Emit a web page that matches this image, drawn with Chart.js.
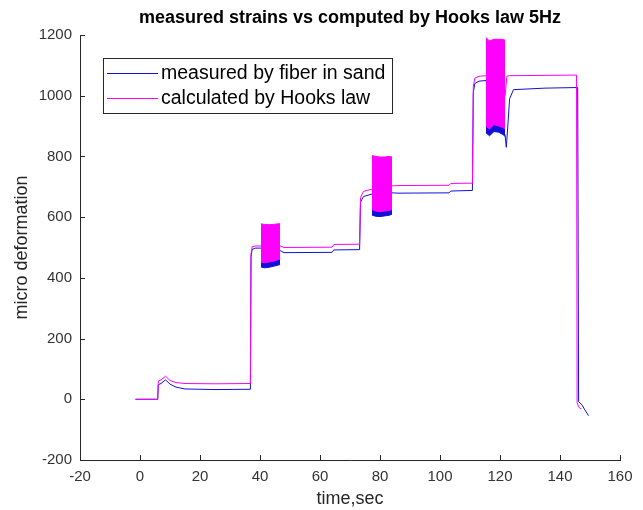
<!DOCTYPE html>
<html>
<head>
<meta charset="utf-8">
<script src="https://cdn.jsdelivr.net/npm/chart.js@4.4.0/dist/chart.umd.min.js"></script>
<style>
  html, body { margin: 0; padding: 0; background: #fff; }
  #wrap { width: 643px; height: 510px; position: relative; }
</style>
</head>
<body>
<div id="wrap"><canvas id="strainChart"></canvas></div>
<script>
// measured by fiber (blue trace)
const measuredTime = [-1.5, 5.9, 6.1, 7.0, 8.5, 10, 12, 15, 25, 36.8, 37.0, 37.4, 38.5, 40.3, 46.7, 48, 64.0, 64.6, 73.2, 73.5, 74.5, 77.3, 84.0, 86, 103.0, 103.6, 110.8, 111.1, 111.6, 113, 115.3, 121.7, 122.1, 122.6, 123.2, 124.5, 135, 145.9, 146.2, 147.3, 148.3, 149.5];
const measuredStrain = [0, 0, 48, 52, 64, 50, 40, 34, 32, 33, 470, 494, 498, 498, 490, 483, 484, 492, 493, 650, 668, 676, 680, 679, 680, 686, 688, 1010, 1040, 1048, 1050, 870, 830, 900, 990, 1020, 1025, 1027, -8, -18, -35, -54];

// Hooke's law estimate (magenta trace)
const calculatedTime = [-1.5, 5.9, 6.1, 7.0, 8.5, 10, 12, 15, 25, 36.8, 37.0, 37.4, 38.5, 40.3, 46.7, 48, 64.0, 64.6, 73.2, 73.5, 74.5, 77.3, 84.0, 86, 103.0, 103.6, 110.8, 111.1, 111.6, 113, 115.3, 121.7, 122.3, 123, 135, 145.5, 145.7, 146.2, 147];
const calculatedStrain = [0, 0, 60, 64, 76, 62, 55, 52, 51, 52, 480, 503, 505, 505, 505, 500, 501, 510, 511, 665, 685, 692, 703, 704, 705, 711, 712, 1030, 1058, 1064, 1066, 1000, 1064, 1066, 1067, 1068, -10, -25, -32];

// 5Hz loading bursts: envelope of the oscillation
const burstTime = [
  [40.3, 41.5, 43, 44.5, 46, 46.7],
  [77.3, 78.5, 80, 81.5, 83, 84.0],
  [115.3, 116.5, 118, 119.5, 121, 121.7]
];
const calculatedBurstHigh = [
  [578, 576, 575, 576, 578, 578],
  [803, 800, 798, 798, 800, 798],
  [1192, 1180, 1186, 1186, 1185, 1183]
];
const calculatedBurstLow = [
  [452, 450, 452, 455, 460, 462],
  [625, 620, 618, 620, 622, 625],
  [900, 890, 905, 900, 895, 890]
];
const measuredBurstHigh = [
  [560, 558, 557, 558, 560, 560],
  [785, 782, 780, 780, 782, 780],
  [1170, 1160, 1165, 1165, 1165, 1160]
];
const measuredBurstLow = [
  [436, 433, 435, 438, 442, 444],
  [607, 603, 602, 604, 606, 610],
  [878, 868, 882, 880, 872, 866]
];

const xTickValues = [-20, 0, 20, 40, 60, 80, 100, 120, 140, 160];
const yTickValues = [-200, 0, 200, 400, 600, 800, 1000, 1200];

const BLUE = '#1010d8';
const MAGENTA = '#ff00ff';
const AXIS = '#262626';

Chart.defaults.font.family = "'Liberation Sans', Arial, Helvetica, sans-serif";

const toPoints = (xs, ys) => xs.map((x, i) => ({ x: x, y: ys[i] }));

const datasets = [
    { label: 'measured by fiber in sand', data: toPoints(measuredTime, measuredStrain), borderColor: BLUE, order: 2 },
    { label: 'calculated by Hooks law', data: toPoints(calculatedTime, calculatedStrain), borderColor: MAGENTA, order: 0 }
];
burstTime.forEach((ts, b) => {
    datasets.push({ label: '', data: toPoints(ts, measuredBurstHigh[b]), borderColor: BLUE, backgroundColor: BLUE, fill: '+1', order: 3 });
    datasets.push({ label: '', data: toPoints(ts, measuredBurstLow[b]), borderColor: BLUE, fill: false, order: 3 });
    datasets.push({ label: '', data: toPoints(ts, calculatedBurstHigh[b]), borderColor: MAGENTA, backgroundColor: MAGENTA, fill: '+1', order: 1 });
    datasets.push({ label: '', data: toPoints(ts, calculatedBurstLow[b]), borderColor: MAGENTA, fill: false, order: 1 });
});

// matlab style ticks pointing into the plot
const innerTicks = {
    id: 'innerTicks',
    afterDatasetsDraw(chart) {
        const { ctx, chartArea, scales: { x, y } } = chart;
        ctx.save();
        ctx.strokeStyle = AXIS;
        ctx.lineWidth = 1;
        ctx.beginPath();
        x.ticks.forEach(t => {
            const px = Math.round(x.getPixelForValue(t.value)) + 0.5;
            ctx.moveTo(px, chartArea.bottom);
            ctx.lineTo(px, chartArea.bottom - 5);
        });
        y.ticks.forEach(t => {
            const py = Math.round(y.getPixelForValue(t.value)) + 0.5;
            ctx.moveTo(chartArea.left, py);
            ctx.lineTo(chartArea.left + 5, py);
        });
        ctx.stroke();
        ctx.restore();
    }
};

// legend box in the upper left of the axes
const legendBox = {
    id: 'legendBox',
    afterDraw(chart) {
        const ctx = chart.ctx;
        const left = 103.5, top = 58.5, w = 289, h = 55;
        ctx.save();
        ctx.fillStyle = '#fff';
        ctx.fillRect(left, top, w, h);
        ctx.strokeStyle = AXIS;
        ctx.lineWidth = 1;
        ctx.strokeRect(left, top, w, h);
        const rows = [
            { text: 'measured by fiber in sand', color: BLUE, y: 73.5 },
            { text: 'calculated by Hooks law', color: MAGENTA, y: 98.5 }
        ];
        ctx.font = "19.5px 'Liberation Sans', Arial, sans-serif";
        ctx.textBaseline = 'middle';
        rows.forEach(r => {
            ctx.strokeStyle = r.color;
            ctx.beginPath();
            ctx.moveTo(107, r.y);
            ctx.lineTo(158, r.y);
            ctx.stroke();
            ctx.fillStyle = '#000';
            ctx.fillText(r.text, 161, r.y + 0.5);
        });
        ctx.restore();
    }
};

const ctx = document.getElementById('strainChart').getContext('2d');
const strainChart = new Chart(ctx, {
    type: 'line',
    data: { datasets: datasets },
    options: {
        responsive: true,
        maintainAspectRatio: false,
        animation: false,
        devicePixelRatio: 1,
        elements: {
            point: { radius: 0 },
            line: { borderWidth: 1, tension: 0 }
        },
        layout: { padding: { left: 0, right: 23, top: 0, bottom: 0 } },
        plugins: {
            legend: { display: false },
            tooltip: { enabled: false },
            title: {
                display: true,
                text: 'measured strains vs computed by Hooks law 5Hz',
                color: '#000',
                font: { size: 18, weight: 'bold' },
                padding: { top: 7, bottom: 6.4 },
                fullSize: false
            }
        },
        scales: {
            x: {
                type: 'linear',
                min: -20,
                max: 160,
                afterBuildTicks: s => { s.ticks = xTickValues.map(v => ({ value: v })); },
                afterFit: s => { s.height = 50; },
                grid: { display: false, drawTicks: false },
                border: { display: true, color: AXIS, width: 1 },
                ticks: { color: '#333', font: { size: 15 }, padding: 8, maxRotation: 0, autoSkip: false, callback: v => String(v) },
                title: { display: true, text: 'time,sec', color: AXIS, font: { size: 18 }, padding: { top: 0, bottom: 0 } }
            },
            y: {
                type: 'linear',
                min: -200,
                max: 1200,
                afterBuildTicks: s => { s.ticks = yTickValues.map(v => ({ value: v })); },
                afterFit: s => { s.width = 80; },
                grid: { display: false, drawTicks: false },
                border: { display: true, color: AXIS, width: 1 },
                ticks: { color: '#333', font: { size: 15 }, padding: 8, autoSkip: false, callback: v => String(v) },
                title: { display: true, text: 'micro deformation', color: AXIS, font: { size: 18 }, padding: { top: 11, bottom: 0 } }
            }
        }
    },
    plugins: [innerTicks, legendBox]
});
</script>
</body>
</html>
